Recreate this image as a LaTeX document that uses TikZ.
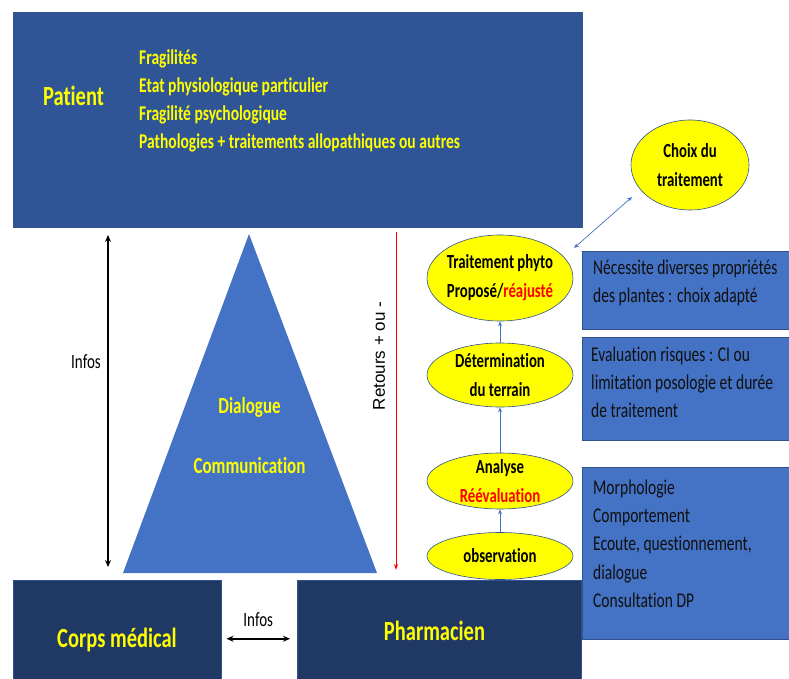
\documentclass[tikz,border=0pt]{standalone}
\usepackage{fontspec}
\setmainfont{Carlito}[FakeStretch=0.74, RawFeature={-liga;-clig;-dlig;-calt}]
\newfontfamily\arialfont{Liberation Sans}
\usetikzlibrary{shapes.geometric,arrows.meta}

\definecolor{patientblue}{HTML}{2F5597}
\definecolor{midblue}{HTML}{4472C4}
\definecolor{navyblue}{HTML}{203864}
\definecolor{edgeblue}{HTML}{2F528F}
\definecolor{notegray}{HTML}{101010}
\definecolor{phytoyellow}{HTML}{FFFF00}

\tikzset{
    panel/.style={rectangle, anchor=north west, inner sep=0pt, draw=edgeblue, line width=0.5pt},
    notebox/.style={panel, fill=midblue, minimum width=207pt},
    notetext/.style={anchor=north west, inner sep=0pt, text=notegray, align=left,
        font=\fontsize{21}{28.3}\selectfont},
    heading/.style={text=phytoyellow, font=\bfseries\fontsize{27.7}{33}\selectfont},
    bubble/.style={ellipse, draw=edgeblue, line width=0.6pt, fill=phytoyellow, inner sep=-6pt,
        align=center, font=\bfseries\fontsize{20}{29}\selectfont},
    climb/.style={-{Stealth[length=5pt,width=4pt]}, draw=midblue, line width=0.7pt},
    infoarrow/.style={{Stealth[length=7pt,width=6pt]}-{Stealth[length=7pt,width=6pt]}, line width=1.8pt},
}

\begin{document}
\begin{tikzpicture}[x=1pt, y=-1pt]
    \useasboundingbox (0,0) rectangle (789,679);

    % Patient
    \node[panel, fill=patientblue, minimum width=569pt, minimum height=215pt] (patient) at (13,12) {};
    \node[heading, anchor=base] (patientname) at (73.5,106) {Patient};
    \node[anchor=north west, inner sep=0pt, align=left, text=phytoyellow,
        font=\bfseries\fontsize{21}{28}\selectfont] (fragilites) at (139,50)
        {Fragilités\\Etat physiologique particulier\\Fragilité psychologique\\Pathologies + traitements allopathiques ou autres};

    % Corps medical and pharmacien
    \node[panel, fill=navyblue, minimum width=208pt, minimum height=99pt] (corps) at (13,580) {};
    \node[panel, fill=navyblue, minimum width=284pt, minimum height=99pt] (pharma) at (297,580) {};
    \node[heading, anchor=base] (corpsname) at (117,647) {Corps médical};
    \node[heading, anchor=base] (pharmaname) at (434.5,640) {Pharmacien};
    \draw[infoarrow] ([xshift=5pt,yshift=-9pt]corps.east) -- ([xshift=-7pt,yshift=-9pt]pharma.west)
        node[midway, above=8pt, font=\fontsize{20.3}{24}\selectfont] (infosbas) {Infos};

    % Dialogue
    \fill[midblue] (249,234) -- (377,573) -- (123,573) -- cycle;
    \node[text=phytoyellow, font=\bfseries\fontsize{23}{28}\selectfont, anchor=base] (dialogue) at (249.5,413) {Dialogue};
    \node[text=phytoyellow, font=\bfseries\fontsize{23}{28}\selectfont, anchor=base] (communication) at (249.5,473) {Communication};

    % Infos patient <-> corps medical
    \coordinate (infotop) at (108,235);
    \coordinate (infobot) at (108,567);
    \draw[infoarrow] (infotop) -- (infobot);
    \node[anchor=base, font=\fontsize{20.3}{24}\selectfont] (infoshaut) at (86,368) {Infos};

    % Retours
    \coordinate (retourtop) at (396,232);
    \coordinate (retourbot) at (396,570);
    \draw[red, line width=1pt, -{Stealth[length=6pt,width=4pt]}] (retourtop) -- (retourbot);
    \node[rotate=90, font=\arialfont\fontsize{17}{20}\selectfont] (retours) at (379,356) {Retours + ou -};

    % Ellipses
    \node[bubble, minimum width=146pt, minimum height=86pt] (phyto) at (500,278) {Traitement phyto\\Proposé/\textcolor{red}{réajusté}};
    \node[bubble, minimum width=146pt, minimum height=64pt] (terrain) at (500,375) {Détermination\\du terrain};
    \node[bubble, minimum width=146pt, minimum height=56pt] (analyse) at (500,481) {Analyse\\\textcolor{red}{Réévaluation}};
    \node[bubble, minimum width=146pt, minimum height=47pt] (observation) at (500,556) {observation};
    \node[bubble, minimum width=118pt, minimum height=90pt] (choix) at (690,165) {Choix du\\traitement};

    \draw[climb] (observation) -- (analyse);
    \draw[climb] (analyse) -- (terrain);
    \draw[climb] (terrain) -- (phyto);

    \coordinate (phytocorner) at (574,248);
    \coordinate (choixcorner) at (632,197);
    \draw[midblue, line width=0.7pt, {Stealth[length=5pt,width=4pt]}-{Stealth[length=5pt,width=4pt]}] (phytocorner) -- (choixcorner);

    % Notes
    \node[notebox, minimum height=78pt] (necessite) at (582,251) {};
    \node[notetext] (necessitetext) at (593,259.5)
        {Nécessite diverses propriétés\\des plantes : choix adapté};
    \node[notebox, minimum height=103pt] (evaluation) at (582,337) {};
    \node[notetext] (evaluationtext) at (591,346.5)
        {Evaluation risques : CI ou\\limitation posologie et durée\\de traitement};
    \node[notebox, minimum height=172pt] (morphologie) at (582,467) {};
    \node[notetext] (morphologietext) at (593,479.5)
        {Morphologie\\Comportement\\Ecoute, questionnement,\\dialogue\\Consultation DP};

\end{tikzpicture}
\end{document}
